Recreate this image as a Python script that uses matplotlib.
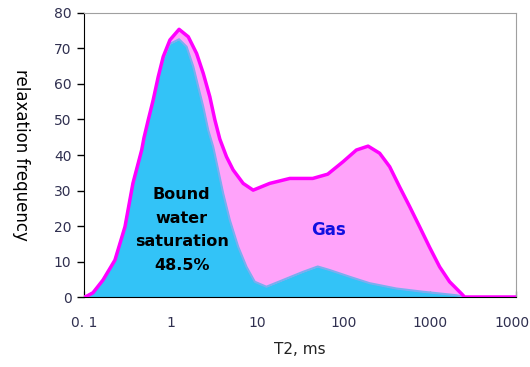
import numpy as np
import matplotlib
matplotlib.use("Agg")
import matplotlib.pyplot as plt

## DATA
# total T2 spectrum (magenta line)
total_t2 = [0.1, 0.107, 0.127, 0.166, 0.228, 0.298, 0.368, 0.465, 0.494, 0.554,
            0.632, 0.722, 0.826, 0.987, 1.26, 1.61, 2.01, 2.40, 2.86, 3.27,
            3.73, 4.46, 5.32, 6.95, 9.07, 14.1, 24.1, 44.4, 66.2, 99.5,
            142, 194, 264, 345, 450, 587, 766, 1000, 1306, 1703,
            2324, 2540, 10000]
total_amp = [0, 0.2, 1.2, 4.8, 10.4, 19.8, 32, 41.4, 44.8, 49.9,
             55.5, 62, 67.7, 72.4, 75.4, 73.3, 68.6, 63, 56.4, 49.9,
             44.5, 39.5, 35.8, 32, 30.1, 32, 33.4, 33.4, 34.6, 38.1,
             41.4, 42.5, 40.5, 36.7, 31, 25.5, 19.8, 14, 8.5, 4.3,
             1, 0, 0]

# bound water spectrum (blue fill)
bound_t2 = [0.1, 0.107, 0.127, 0.166, 0.228, 0.298, 0.368, 0.465, 0.494, 0.554,
            0.632, 0.722, 0.826, 0.987, 1.26, 1.54, 1.84, 2.10, 2.40, 2.74,
            3.13, 3.57, 4.08, 4.87, 6.08, 7.60, 9.48, 12.9, 20.1, 34.3,
            50.7, 69.8, 119, 202, 412, 830, 1306, 2037, 2540, 10000]
bound_amp = [0, 0.3, 1.2, 4.8, 10.4, 19.8, 32, 41.4, 44.5, 49.5,
             55, 61.5, 67, 71.3, 72.6, 70.5, 64.9, 59.2, 53.6, 47,
             42.3, 35.8, 29.2, 21.7, 14.2, 8.5, 4.3, 2.9, 4.8, 7.1,
             8.6, 7.6, 5.7, 3.9, 2.4, 1.5, 1, 0.5, 0, 0]

x_ticks = [0.1, 1, 10, 100, 1000, 10000]
x_tick_labels = ["0. 1", "1", "10", "100", "1000", "10000"]
y_ticks = [0, 10, 20, 30, 40, 50, 60, 70, 80]

fig = plt.figure(figsize=(5.30, 3.67), dpi=100)
ax = fig.add_axes([0.1585, 0.1907, 0.8151, 0.7739])

# gas part: pink fill under total curve, magenta outline
ax.fill_between(total_t2, 0, total_amp, color="#ffa3fa", lw=0, zorder=1)
# bound water part
ax.fill_between(bound_t2, 0, bound_amp, color="#33c3f7", lw=0, zorder=2)
ax.plot(bound_t2, bound_amp, color="#7aaef0", lw=1.5, zorder=3, solid_joinstyle="round")
ax.plot(total_t2, total_amp, color="#ff00ff", lw=2.5, zorder=4, solid_joinstyle="round")

ax.set_xscale("log")
ax.set_xlim(0.1, 10000)
ax.set_ylim(0, 80)
ax.set_xticks(x_ticks)
ax.set_xticklabels(x_tick_labels)
ax.minorticks_off()
ax.set_yticks(y_ticks)

tick_color = "#303050"
ax.tick_params(axis="y", direction="out", length=5, width=1, color="black",
               labelsize=10, labelcolor=tick_color, pad=4)
ax.tick_params(axis="x", direction="in", length=4, width=1, color="#909090",
               labelsize=10, labelcolor=tick_color, pad=14)

for side in ["top", "right"]:
    ax.spines[side].set_color("#a0a0a0")
ax.spines["left"].set_color("black")
ax.spines["bottom"].set_color("black")

ax.set_xlabel("T2, ms", fontsize=11, color="#222222", labelpad=8)
ax.set_ylabel("relaxation frequency", fontsize=12, rotation=-90, labelpad=30, color="black")

ax.text(1.35, 18.9, "Bound\nwater\nsaturation\n48.5%", ha="center", va="center",
        fontsize=11.5, fontweight="bold", color="black", linespacing=1.7, zorder=5)
ax.text(67, 19, "Gas", ha="center", va="center",
        fontsize=12, fontweight="bold", color="#1010e0", zorder=5)

fig.savefig("out.png", dpi=100)
